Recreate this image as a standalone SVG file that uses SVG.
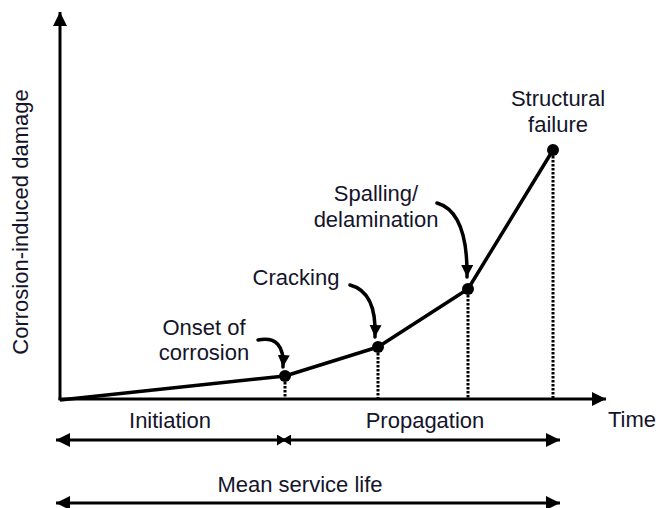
<svg xmlns="http://www.w3.org/2000/svg" width="659" height="508" viewBox="0 0 659 508">
  <style>
    text { font-family: "Liberation Sans", Arial, sans-serif; font-size: 22px; fill: #14142a; text-anchor: middle; }
    .axis { stroke: #000; stroke-width: 3; fill: none; }
    .curve { stroke: #000; stroke-width: 3.5; fill: none; stroke-linejoin: round; }
    .dot { fill: #000; }
    .dash { stroke: #000; stroke-width: 3; stroke-dasharray: 2.5 1.5; fill: none; }
    .callout { stroke: #000; stroke-width: 3.5; fill: none; stroke-linecap: round; }
    .span { stroke: #000; stroke-width: 3; fill: none; }
  </style>
  <defs>
    <marker id="ah" markerUnits="userSpaceOnUse" viewBox="0 0 14 14" refX="14" refY="7" markerWidth="14" markerHeight="14" orient="auto-start-reverse">
      <path d="M0,0 L14,7 L0,14 z" fill="#000"/>
    </marker>
    <marker id="ahm" markerUnits="userSpaceOnUse" viewBox="0 0 9 11" refX="9" refY="5.5" markerWidth="9" markerHeight="11" orient="auto-start-reverse">
      <path d="M0,0 L9,5.5 L0,11 z" fill="#000"/>
    </marker>
    <marker id="ahs" markerUnits="userSpaceOnUse" viewBox="0 0 12 12" refX="12" refY="6" markerWidth="12" markerHeight="12" orient="auto">
      <path d="M0,0 L12,6 L0,12 z" fill="#000"/>
    </marker>
  </defs>

  <g id="axes">
    <line class="axis" x1="60" y1="400" x2="60" y2="12" marker-end="url(#ah)"/>
    <line class="axis" x1="58.5" y1="399" x2="606" y2="399" marker-end="url(#ah)"/>
    <text transform="translate(28,222) rotate(-90)">Corrosion-induced damage</text>
    <text x="632" y="427">Time</text>
  </g>

  <g id="connectors">
    <polyline class="curve" points="60,400 285,376 378,347 468,289 553,150"/>
    <line class="dash" x1="285" y1="378" x2="285" y2="398"/>
    <line class="dash" x1="378" y1="349" x2="378" y2="398"/>
    <line class="dash" x1="468" y1="291" x2="468" y2="398"/>
    <line class="dash" x1="553" y1="152" x2="553" y2="398"/>
    <path class="callout" d="M258,340 Q285,335 283,367" marker-end="url(#ahs)"/>
    <path class="callout" d="M350,285 Q377,292 375,337" marker-end="url(#ahs)"/>
    <path class="callout" d="M437,203 Q468,212 467,277" marker-end="url(#ahs)"/>
  </g>

  <g id="onset">
    <circle class="dot" cx="285" cy="376" r="6"/>
    <text x="204" y="335">Onset of</text>
    <text x="204" y="360">corrosion</text>
  </g>
  <g id="cracking">
    <circle class="dot" cx="378" cy="347" r="6"/>
    <text x="296" y="285">Cracking</text>
  </g>
  <g id="spalling">
    <circle class="dot" cx="468" cy="289" r="6"/>
    <text x="376" y="201">Spalling/</text>
    <text x="376" y="227">delamination</text>
  </g>
  <g id="failure">
    <circle class="dot" cx="553" cy="150" r="6"/>
    <text x="558" y="106">Structural</text>
    <text x="558" y="132">failure</text>
  </g>

  <g id="periods">
    <line class="span" x1="56" y1="440" x2="286" y2="440" marker-start="url(#ah)" marker-end="url(#ahm)"/>
    <line class="span" x1="282" y1="440" x2="560" y2="440" marker-start="url(#ahm)" marker-end="url(#ah)"/>
    <text x="170" y="428">Initiation</text>
    <text x="425" y="428">Propagation</text>
    <line class="span" x1="56" y1="503" x2="560" y2="503" marker-start="url(#ah)" marker-end="url(#ah)"/>
    <text x="300" y="492">Mean service life</text>
  </g>
</svg>
